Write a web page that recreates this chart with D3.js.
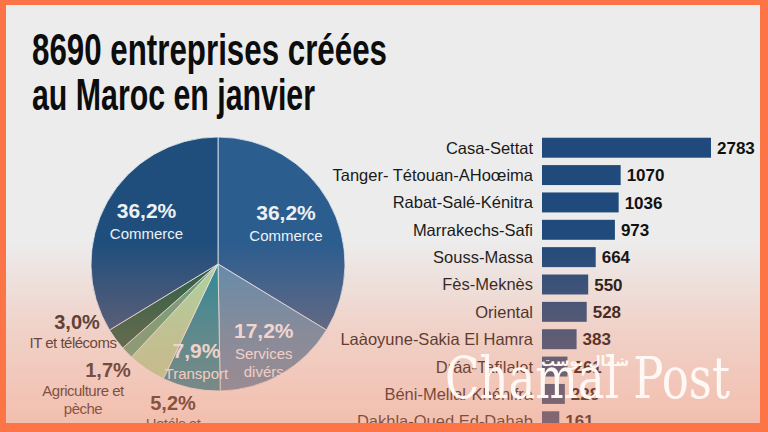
<!DOCTYPE html>
<html>
<head>
<meta charset="utf-8">
<script src="https://cdn.jsdelivr.net/npm/d3@7"></script>
<style>
  html, body { margin: 0; padding: 0; background: #ebebeb; }
  svg { display: block; font-family: "Liberation Sans", Arial, sans-serif; }
</style>
</head>
<body>
<svg></svg>
<script>
var width = 768;
var height = 432;

// secteurs (ordre horaire depuis midi)
var sectors = ["Commerce", "Services divers", "Transport", "Hotéls et", "Agriculture et pèche", "IT et télécoms", "Commerce"];
var sectorShares = [36.2, 17.2, 7.9, 5.2, 1.7, 3.0, 36.2];
var sectorColors = ["#2b5d8f", "#5b8cae", "#23899b", "#a9d6a3", "#5ea27c", "#1f5c43", "#1f4e7d"];

// régions
var regions = ["Casa-Settat", "Tanger- Tétouan-AHoœima", "Rabat-Salé-Kénitra", "Marrakechs-Safi",
               "Souss-Massa", "Fès-Meknès", "Oriental", "Laàoyune-Sakia El Hamra",
               "Dráa-Tafilalet", "Béni-Mellal-Khénifra", "Dakhla-Oued Ed-Dahab"];
var regionCounts = [2783, 1070, 1036, 973, 664, 550, 528, 383, 261, 228, 161];

var titleLines = ["8690 entreprises créées", "au Maroc en janvier"];

var svg = d3.select("svg")
    .attr("width", width)
    .attr("height", height);

var defs = svg.append("defs");

var fade = defs.append("linearGradient")
    .attr("id", "fade")
    .attr("gradientUnits", "userSpaceOnUse")
    .attr("x1", 0).attr("y1", 0)
    .attr("x2", 0).attr("y2", height);
fade.append("stop").attr("offset", 0.56).attr("stop-color", "#fb8a66").attr("stop-opacity", 0);
fade.append("stop").attr("offset", 0.77).attr("stop-color", "#fb8a66").attr("stop-opacity", 0.28);
fade.append("stop").attr("offset", 1).attr("stop-color", "#fb8a66").attr("stop-opacity", 0.48);

svg.append("rect")
    .attr("width", width)
    .attr("height", height)
    .attr("fill", "#ececec");

// titre
svg.selectAll(".title")
  .data(titleLines)
  .enter()
  .append("text")
    .classed("title", true)
    .attr("x", 32)
    .attr("y", (d, i) => 65 + i * 45)
    .attr("textLength", (d, i) => i === 0 ? 355 : 283)
    .attr("lengthAdjust", "spacingAndGlyphs")
    .style("font-size", "44px")
    .style("font-weight", "bold")
    .style("fill", "#0d0d0d")
    .text(d => d);

// camembert
var radius = 127;
var pieData = sectors.map((s, i) => ({ name: s, share: sectorShares[i], color: sectorColors[i] }));

var arcs = d3.pie()
    .value(d => d.share)
    .sort(null)
    (pieData);

var path = d3.arc()
    .outerRadius(radius)
    .innerRadius(0);

var pie = svg.append("g")
    .attr("transform", `translate(218, 264)`)
    .classed("pie", true);

pie.selectAll(".arc")
  .data(arcs)
  .enter()
  .append("path")
    .classed("arc", true)
    .attr("fill", d => d.data.color)
    .attr("stroke", "#e8eef2")
    .attr("stroke-width", 0.8)
    .attr("d", path);

// étiquettes internes
var inside = [0, 1, 2, 6];
var labelRadius = [78, 92, 102, 0, 0, 0, 82];
var insideArcs = arcs.filter((d, i) => inside.indexOf(i) >= 0);

var inLabel = pie.selectAll(".in-label")
  .data(insideArcs)
  .enter()
  .append("g")
    .classed("in-label", true)
    .attr("transform", d => {
      var r = labelRadius[d.index];
      var c = d3.arc().innerRadius(r).outerRadius(r).centroid(d);
      return `translate(${c[0]}, ${c[1]})`;
    })
    .style("text-anchor", "middle")
    .style("fill", "#edf1f5");

inLabel.append("text")
    .attr("y", -6)
    .style("font-size", "21px")
    .style("font-weight", "bold")
    .text(d => d3.format(".1f")(d.data.share).replace(".", ",") + "%");

inLabel.each(function(d) {
  var words = d.data.name === "Services divers" ? ["Services", "divérs"] : [d.data.name];
  d3.select(this).selectAll(".sub")
    .data(words)
    .enter()
    .append("text")
      .classed("sub", true)
      .attr("y", (w, i) => 15 + i * 18)
      .style("font-size", "15px")
      .text(w => w);
});

// étiquettes externes (gauche)
var outside = [
  { i: 5, x: 73, y: 329, lines: ["IT et télécoms"], pctX: 77 },
  { i: 4, x: 83, y: 377, lines: ["Agriculture et", "pèche"], pctX: 108 },
  { i: 3, x: 173, y: 410, lines: ["Hotéls et"], pctX: 173 }
];

var outLabel = svg.selectAll(".out-label")
  .data(outside)
  .enter()
  .append("g")
    .classed("out-label", true)
    .style("text-anchor", "middle")
    .style("fill", "#2d2a2a");

outLabel.append("text")
    .attr("x", d => d.pctX)
    .attr("y", d => d.y)
    .style("font-size", "20px")
    .style("font-weight", "bold")
    .text(d => d3.format(".1f")(sectorShares[d.i]).replace(".", ",") + "%");

outLabel.each(function(d) {
  d3.select(this).selectAll(".sub")
    .data(d.lines)
    .enter()
    .append("text")
      .classed("sub", true)
      .attr("x", d.x)
      .attr("y", (w, i) => d.y + 19 + i * 18)
      .style("font-size", "15px")
      .style("letter-spacing", "-0.5px")
      .text(w => w);
});

// barres
var barX = 542;
var x = d3.scalePow()
    .exponent(0.8)
    .domain([0, d3.max(regionCounts)])
    .range([0, 169]);

var y = d3.scaleBand()
    .domain(regions)
    .range([135, 434])
    .paddingInner(0.27)
    .paddingOuter(0.1);

var bars = svg.append("g")
    .classed("bars", true);

bars.selectAll(".bar")
  .data(regions)
  .enter()
  .append("rect")
    .classed("bar", true)
    .attr("x", barX)
    .attr("y", d => y(d))
    .attr("width", (d, i) => x(regionCounts[i]))
    .attr("height", y.bandwidth())
    .attr("fill", "#1f4a7b");

bars.selectAll(".name")
  .data(regions)
  .enter()
  .append("text")
    .classed("name", true)
    .attr("x", barX - 9)
    .attr("y", d => y(d) + y.bandwidth() / 2)
    .attr("dy", "0.36em")
    .style("text-anchor", "end")
    .style("font-size", "16.5px")
    .style("fill", "#1a1a1a")
    .text(d => d);

bars.selectAll(".value")
  .data(regions)
  .enter()
  .append("text")
    .classed("value", true)
    .attr("x", (d, i) => barX + x(regionCounts[i]) + 6)
    .attr("y", d => y(d) + y.bandwidth() / 2)
    .attr("dy", "0.36em")
    .style("font-size", "17px")
    .style("font-weight", "bold")
    .style("fill", "#111")
    .text((d, i) => regionCounts[i]);

// voile dégradé
svg.append("rect")
    .attr("width", width)
    .attr("height", height)
    .attr("fill", "url(#fade)");

// filigrane
svg.append("text")
    .attr("x", 445)
    .attr("y", 398)
    .attr("textLength", 285)
    .attr("lengthAdjust", "spacingAndGlyphs")
    .style("font-family", "'DejaVu Serif', serif")
    .style("font-size", "58px")
    .style("fill", "#fff8f4")
    .text("Chamal Post");

svg.append("text")
    .attr("x", 585)
    .attr("y", 366)
    .style("text-anchor", "middle")
    .style("font-family", "'DejaVu Sans', sans-serif")
    .style("font-size", "14px")
    .style("font-weight", "bold")
    .style("fill", "#fff8f4")
    .text("شمال بوست");

// cadre orange
var frame = [[0, 0, width, 5], [0, 0, 6, height], [width - 8, 0, 8, height], [0, height - 9, width, 9]];
svg.selectAll(".frame")
  .data(frame)
  .enter()
  .append("rect")
    .classed("frame", true)
    .attr("x", d => d[0])
    .attr("y", d => d[1])
    .attr("width", d => d[2])
    .attr("height", d => d[3])
    .attr("fill", "#fd7447");
</script>
</body>
</html>
